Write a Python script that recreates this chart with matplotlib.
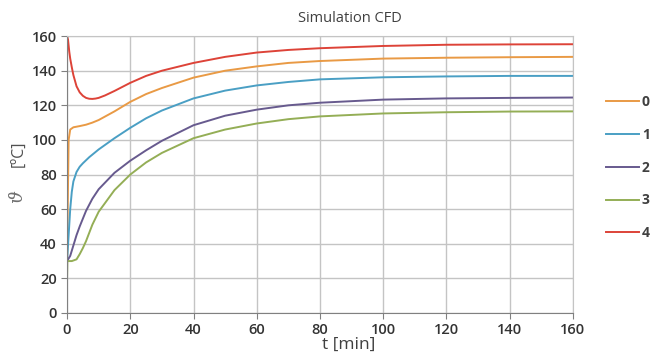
import matplotlib.pyplot as plt

plt.rcParams['font.family'] = ['Open Sans', 'DejaVu Sans']

# series (t in min, temperature in degC)
t0 = [0, 0.2, 0.5, 1, 2, 4, 6, 8, 10, 15, 20, 25, 30, 40, 50, 60, 70, 80, 100, 120, 140, 160]
v0 = [30, 60, 100, 106, 107.3, 108, 108.8, 110, 111.5, 116.5, 122, 126.5, 130, 136, 140, 142.5, 144.5, 145.6, 147, 147.5, 147.8, 148]

t1 = [0, 0.5, 1, 1.5, 2, 3, 4, 5, 7, 10, 15, 20, 25, 30, 40, 50, 60, 70, 80, 100, 120, 140, 160]
v1 = [30, 45, 60, 70, 76, 81.5, 84.5, 86.5, 90, 94.5, 101, 107, 112.5, 117, 124, 128.5, 131.5, 133.5, 135, 136.2, 136.7, 137, 137]

t2 = [0, 1, 2, 3, 4, 6, 8, 10, 15, 20, 25, 30, 40, 50, 60, 70, 80, 100, 120, 140, 160]
v2 = [30, 33, 39, 45, 50, 59, 66, 71.5, 81, 88, 94, 99.5, 108.5, 114, 117.5, 120, 121.5, 123.3, 124, 124.3, 124.5]

t3 = [0, 0.1, 1.5, 3, 4, 5, 6, 8, 10, 15, 20, 25, 30, 40, 50, 60, 70, 80, 100, 120, 140, 160]
v3 = [20, 30, 30, 31, 34, 37.5, 41.5, 51, 58.5, 71, 80, 87, 92.5, 101, 106, 109.5, 112, 113.6, 115.3, 116, 116.4, 116.5]

t4 = [0, 0.3, 0.7, 1, 1.5, 2, 3, 4, 5, 6, 7, 8, 9, 10, 12, 15, 20, 25, 30, 40, 50, 60, 70, 80, 100, 120, 140, 160]
v4 = [160, 158, 151, 147, 142, 137.5, 131, 127.5, 125.5, 124.3, 123.8, 123.7, 123.9, 124.3, 125.7, 128.3, 133, 137, 140, 144.5, 148, 150.5, 152, 153, 154.3, 155, 155.2, 155.3]

labels = ['0', '1', '2', '3', '4']
colors = ['#E99A45', '#4A9FC4', '#675A8E', '#94AE56', '#DD4338']

fig = plt.figure(figsize=(6.51, 3.61), dpi=100)
ax = fig.add_axes([0.103, 0.133, 0.777, 0.767])

series = [(t0, v0), (t1, v1), (t2, v2), (t3, v3), (t4, v4)]
for (t, v), lab, c in zip(series, labels, colors):
    ax.plot(t, v, color=c, lw=1.4, label=lab)

ax.set_xlim(0, 160)
ax.set_ylim(0, 160)
ax.set_xticks(range(0, 161, 20))
ax.set_yticks(range(0, 161, 20))
ax.grid(True, color='#c4c4c4', lw=1)
ax.set_axisbelow(True)
for s in ['top', 'right']:
    ax.spines[s].set_color('#c4c4c4')
for s in ['left', 'bottom']:
    ax.spines[s].set_color('#808080')
ax.tick_params(colors='#808080', labelcolor='#333333', labelsize=10.5, length=4)
for lbl in ax.get_xticklabels() + ax.get_yticklabels():
    lbl.set_fontweight('semibold')

ax.set_title('Simulation CFD', fontsize=10.5, color='#404040', x=0.56, pad=10)
ax.set_xlabel('t [min]', fontsize=12.5, color='#404040')
ax.xaxis.set_label_coords(0.556, -0.085)

# y label: serif theta plus unit, like the original
fig.text(0.026, 0.455, 'ϑ', rotation=90, fontsize=13, color='#707070',
         family='DejaVu Serif', style='italic', ha='center', va='center')
fig.text(0.03, 0.575, '[ºC]', rotation=90, fontsize=11.5, color='#505050',
         ha='center', va='center')

ax.legend(loc='center left', bbox_to_anchor=(1.04, 0.525), frameon=False,
          handlelength=2.4, handletextpad=0.2, labelspacing=1.35,
          prop={'size': 10, 'weight': 'bold'}, labelcolor='#404040')

fig.savefig('out.png', dpi=100)
